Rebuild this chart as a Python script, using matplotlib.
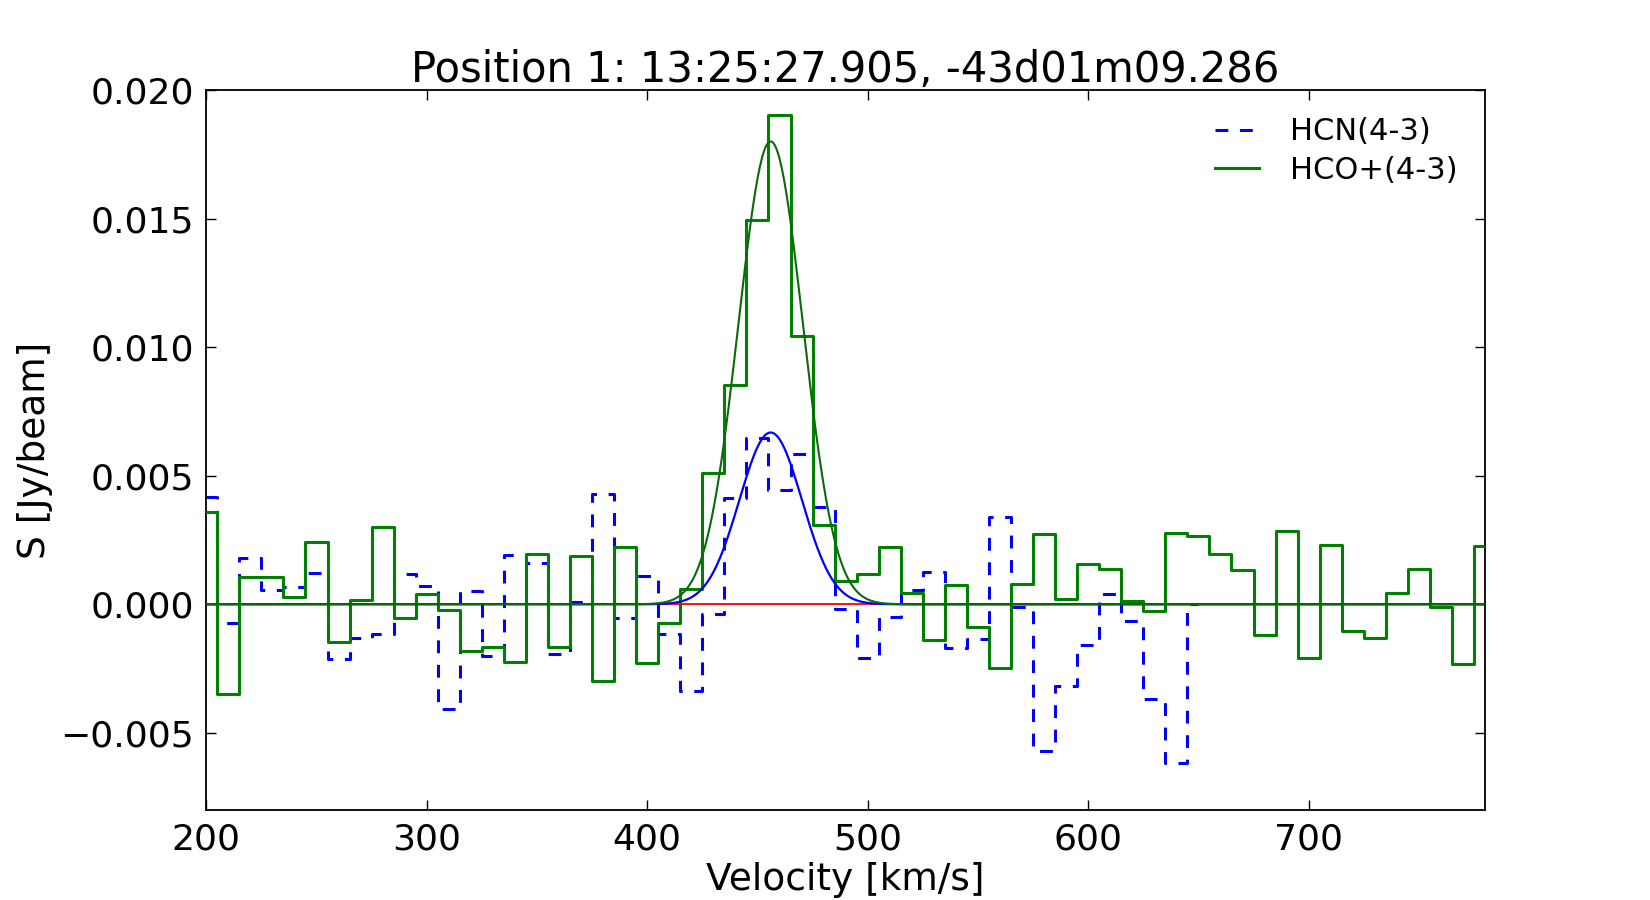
import numpy as np
import matplotlib
matplotlib.use("Agg")
import matplotlib.pyplot as plt

# ---- data ----
hco_velocity = list(range(200, 790, 10))
hco_flux = [0.00360, -0.00349, 0.00105, 0.00105, 0.00028, 0.00243, -0.00146, 0.00016,
            0.00302, -0.00052, 0.00041, -0.00023, -0.00181, -0.00168, -0.00224, 0.00196,
            -0.00165, 0.00186, -0.00297, 0.00221, -0.00228, -0.00073, 0.00061, 0.00509,
            0.00852, 0.01495, 0.01902, 0.01045, 0.00307, 0.00089, 0.00116, 0.00221,
            0.00042, -0.00140, 0.00076, -0.00090, -0.00249, 0.00080, 0.00273, 0.00021,
            0.00158, 0.00138, 0.00012, -0.00028, 0.00278, 0.00264, 0.00196, 0.00132,
            -0.00118, 0.00284, -0.00208, 0.00231, -0.00103, -0.00133, 0.00045, 0.00138,
            -0.00010, -0.00233, 0.00226]

hcn_velocity = list(range(200, 660, 10))
hcn_flux = [0.00416, -0.00071, 0.00180, 0.00057, 0.00068, 0.00121, -0.00211, -0.00133,
            -0.00114, 0.00116, 0.00071, -0.00408, 0.00050, -0.00200, 0.00191, 0.00161,
            -0.00194, 0.00010, 0.00429, -0.00053, 0.00110, -0.00116, -0.00336, -0.00038,
            0.00414, 0.00647, 0.00445, 0.00585, 0.00379, -0.00018, -0.00207, -0.00050,
            0.00057, 0.00125, -0.00169, -0.00134, 0.00341, -0.00010, -0.00570, -0.00318,
            -0.00159, 0.00041, -0.00065, -0.00368, -0.00618, 0.0]

# Gaussian fit parameters
hco_fit = dict(amp=0.0180, center=456.0, sigma=14.6)
hcn_fit = dict(amp=0.00668, center=456.0, sigma=14.2)

title = "Position 1: 13:25:27.905, -43d01m09.286"
xlabel = "Velocity [km/s]"
ylabel = "S [Jy/beam]"
xticks = [200, 300, 400, 500, 600, 700]
yticks = [-0.005, 0.000, 0.005, 0.010, 0.015, 0.020]
ytick_labels = ["\u22120.005", "0.000", "0.005", "0.010", "0.015", "0.020"]

# ---- plot ----
plt.rcParams['font.family'] = ['DejaVu Sans']
fig = plt.figure(figsize=(16.5, 9), dpi=100)
ax = fig.add_axes([0.125, 0.1, 0.775, 0.8])

ax.axhline(0, color='red', lw=1.3, zorder=1)

ax.step(hcn_velocity, hcn_flux, where='mid', color='blue', lw=2.2,
        linestyle=(0, (4.2, 3.8)), label='HCN(4-3)', zorder=2)
ax.step(hco_velocity, hco_flux, where='mid', color='green', lw=2.2,
        label='HCO+(4-3)', zorder=3)

vv = np.linspace(200, 780, 1200)
def gauss(x, amp, center, sigma):
    return amp * np.exp(-0.5 * ((x - center) / sigma) ** 2)

ax.plot(vv, gauss(vv, **hcn_fit), color='blue', lw=1.6, zorder=4)
ax.plot(vv, gauss(vv, **hco_fit), color='#0a6a0a', lw=1.5, zorder=5)

ax.set_xlim(200, 780)
ax.set_ylim(-0.008, 0.020)
ax.set_xticks(xticks)
ax.set_yticks(yticks)
ax.set_yticklabels(ytick_labels)
ax.tick_params(direction='in', length=7, width=1, top=True, right=True,
               labelsize=26, pad=9)
for s in ax.spines.values():
    s.set_linewidth(1.3)

ax.set_title(title, fontsize=30, pad=6)
ax.set_xlabel(xlabel, fontsize=27, labelpad=4)
ax.set_ylabel(ylabel, fontsize=27, labelpad=5)

ax.legend(loc='upper right', frameon=False, fontsize=22, handlelength=1.45,
          handletextpad=1.0, borderaxespad=0.5, labelspacing=0.3)

fig.savefig("out.png", dpi=100)
